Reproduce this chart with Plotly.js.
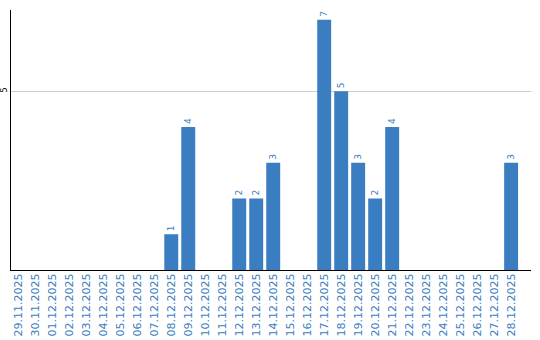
<!DOCTYPE html>
<html><head><meta charset="utf-8">
<script src="https://cdn.plot.ly/plotly-3.0.1.min.js"></script>
<style>html,body{margin:0;padding:0;background:#fff}#c{width:540px;height:340px}</style>
</head><body><div id="c"></div>
<script>
const dates = ["29.11.2025","30.11.2025","01.12.2025","02.12.2025","03.12.2025","04.12.2025","05.12.2025","06.12.2025","07.12.2025","08.12.2025","09.12.2025","10.12.2025","11.12.2025","12.12.2025","13.12.2025","14.12.2025","15.12.2025","16.12.2025","17.12.2025","18.12.2025","19.12.2025","20.12.2025","21.12.2025","22.12.2025","23.12.2025","24.12.2025","25.12.2025","26.12.2025","27.12.2025","28.12.2025"];
const counts = [0,0,0,0,0,0,0,0,0,1,4,0,0,2,2,3,0,0,7,5,3,2,4,0,0,0,0,0,0,3];
const yTicks = [5];
const labels = counts.map(v => v > 0 ? String(v) : "");
const blue = "#3b7dc1";
Plotly.newPlot("c", [{
  type: "bar", x: dates, y: counts, text: labels,
  textposition: "outside", textangle: -90, cliponaxis: false,
  textfont: {family: "DejaVu Sans", size: 9, color: blue},
  marker: {color: blue}, hoverinfo: "none"
}], {
  width: 540, height: 340,
  margin: {l: 11, r: 9, t: 10, b: 70},
  paper_bgcolor: "#fff", plot_bgcolor: "#fff",
  bargap: 0.18, showlegend: false,
  xaxis: {type: "category", range: [-0.43, 30.17], showline: true, linecolor: "#000", linewidth: 1,
    tickangle: -90, tickfont: {family: "DejaVu Sans", size: 11, color: blue},
    ticklabelstandoff: -2,
    ticks: "", showgrid: false, zeroline: false, automargin: false},
  yaxis: {range: [0, 7.27], tickmode: "array", tickvals: yTicks, showline: true, linecolor: "#000", linewidth: 1,
    showgrid: true, gridcolor: "#cccccc", zeroline: false, ticks: "",
    tickangle: -90, tickfont: {family: "DejaVu Sans", size: 8, color: "#000"},
    showticklabels: true, automargin: false}
}, {displayModeBar: false, staticPlot: true});
</script></body></html>
